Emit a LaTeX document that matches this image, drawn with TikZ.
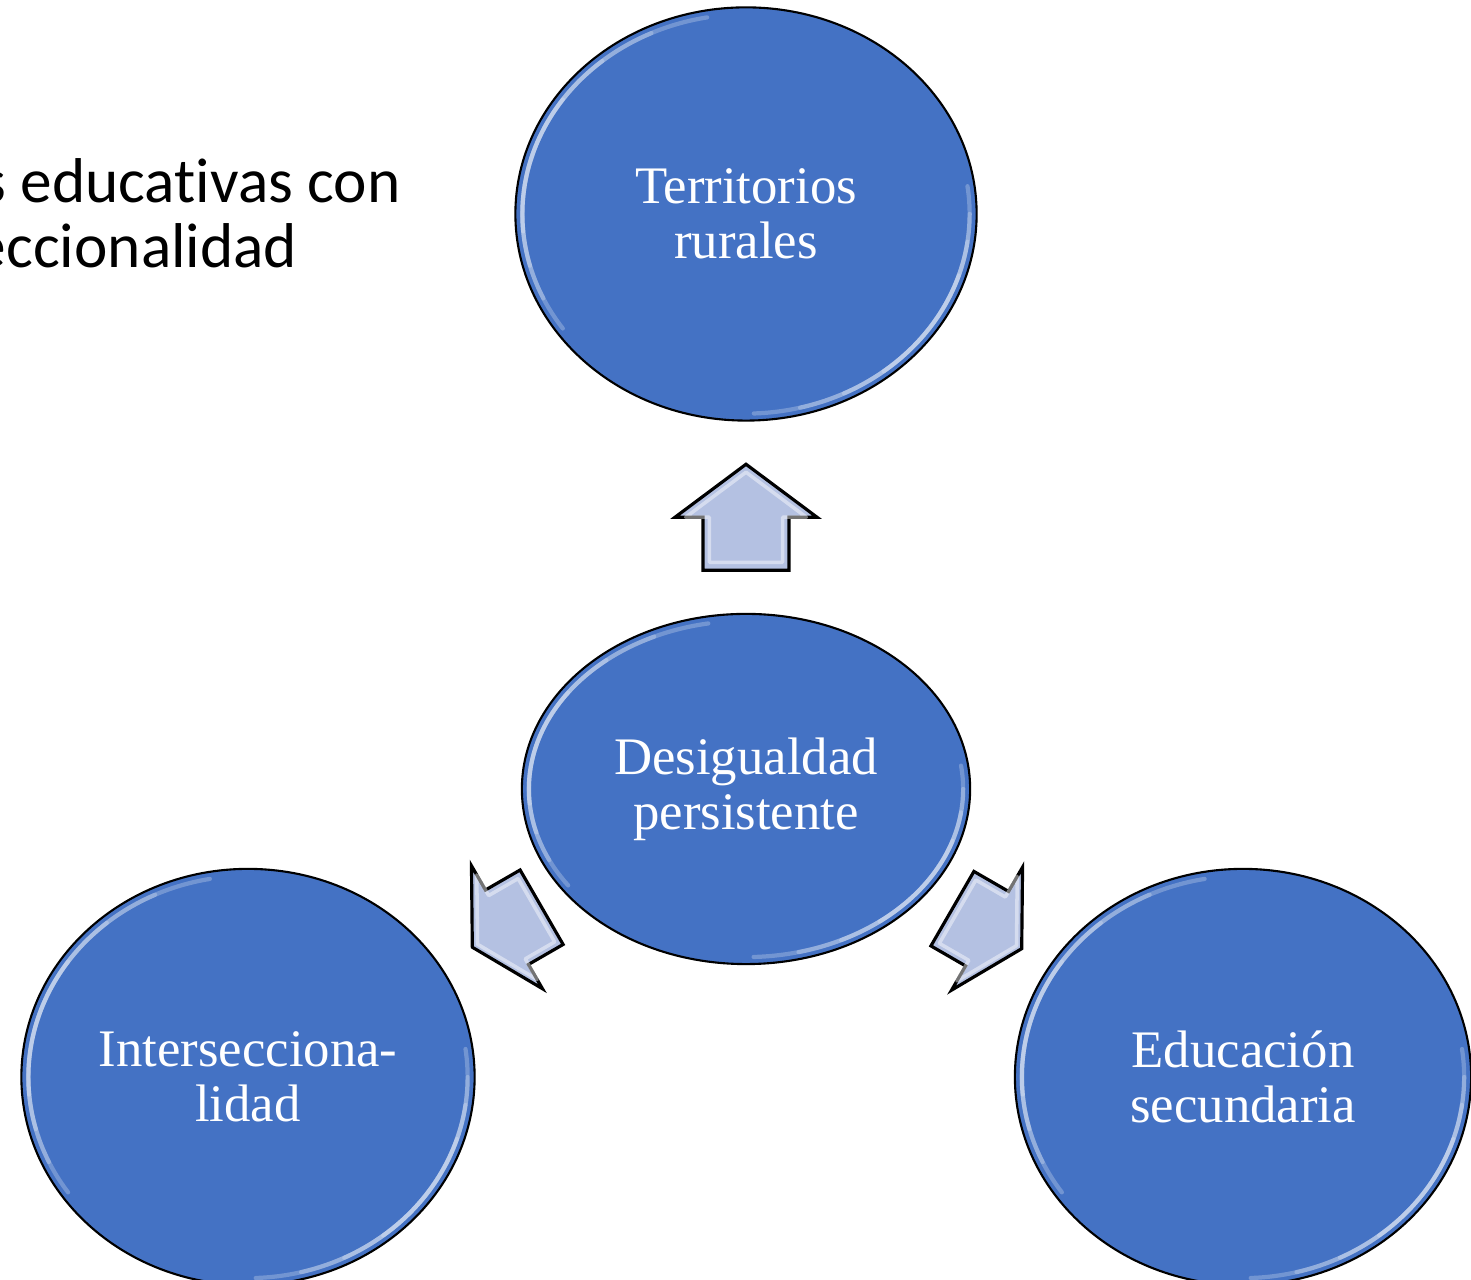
\documentclass[tikz,border=0pt]{standalone}
\usepackage{fontspec}
\setmainfont{Liberation Serif}
\newfontfamily\titlefont[Ligatures=NoCommon]{Carlito}
\usetikzlibrary{shapes.geometric,calc}
\definecolor{bubbleblue}{RGB}{68,114,196}
\definecolor{arrowblue}{RGB}{180,193,226}
% soft light rim on the inner edge of a bubble
\newcommand{\glint}[3]{%
  \foreach \s/\e in {100/215,115/205,130/195,145/185}
    \draw[glint] ($(#1)+(\s:#2 and #3)$) arc[start angle=\s,end angle=\e,x radius=#2,y radius=#3];
  \foreach \s/\e in {-88/8,-76/0,-64/-8,-52/-18}
    \draw[glint] ($(#1)+(\s:#2 and #3)$) arc[start angle=\s,end angle=\e,x radius=#2,y radius=#3];
}
\begin{document}
\begin{tikzpicture}[x=0.01cm,y=0.01cm,
  bubble/.style={ellipse,draw=black,line width=0.6pt,fill=bubbleblue,text=white,align=center,inner sep=0pt,font=\fontsize{15}{15.6}\selectfont},
  glint/.style={white!90!bubbleblue,line width=1.2pt,opacity=0.28,line cap=round},
  arrowfill/.style={draw=black,line width=0.9pt,fill=arrowblue,line join=miter},
  titletext/.style={anchor=base east,inner sep=0pt,font=\titlefont\fontsize{18}{21}\selectfont},
  pics/blockarr/.style={code={
    \draw[arrowfill] (-#1,43) -- (0,43) -- (0,71) -- (#1,0) -- (0,-71) -- (0,-43) -- (-#1,-43) -- cycle;
    \draw[white,opacity=0.45,line width=1pt,line join=round,scale=0.85] (-#1,43) -- (0,43) -- (0,71) -- (#1,0) -- (0,-71) -- (0,-43) -- (-#1,-43) -- cycle;
  }}]
\useasboundingbox (0,0) rectangle (1471,1280);
\clip (0,0) rectangle (1471,1280);

% heading, cut off at the left edge
\node[titletext] (title1) at (401,1077) {s educativas con};
\node[titletext] (title2) at (298,1012) {eccionalidad};

% bubbles
\node[bubble,minimum width=4.61cm,minimum height=4.13cm] (rurales) at (746,1066) {Territorios\\rurales};
\node[bubble,minimum width=4.48cm,minimum height=3.50cm] (desig) at (746,491) {Desigualdad\\persistente};
\node[bubble,minimum width=4.53cm,minimum height=4.16cm] (inter) at (248,203) {Intersecciona-\\lidad};
\node[bubble,minimum width=4.56cm,minimum height=4.16cm] (educ) at (1243,203) {Educación\\secundaria};

\glint{rurales}{2.235cm}{1.995cm}
\glint{desig}{2.17cm}{1.68cm}
\glint{inter}{2.195cm}{2.01cm}
\glint{educ}{2.21cm}{2.01cm}

% block arrows
\pic[rotate=90] at ($(rurales.south)!0.5!(desig.north)$) {blockarr=53};
\pic[rotate=210] at ($(desig)!0.48!(inter)$) {blockarr=40};
\pic[rotate=-30] at ($(desig)!0.485!(educ)$) {blockarr=40};
\end{tikzpicture}
\end{document}
